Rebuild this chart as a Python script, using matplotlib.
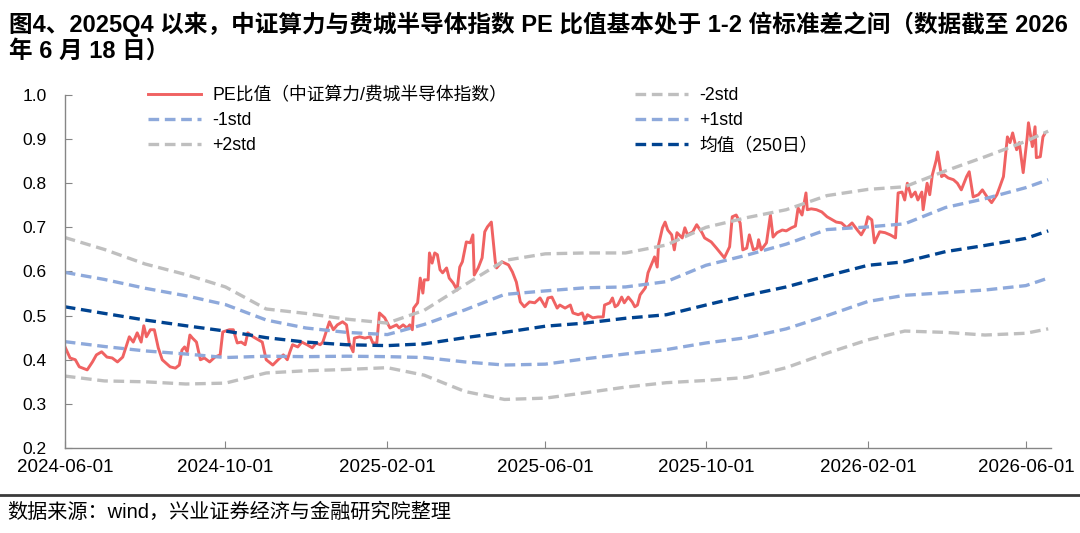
import pandas as pd
import matplotlib
matplotlib.use("Agg")
import matplotlib.pyplot as plt
import matplotlib.dates as mdates
from matplotlib.lines import Line2D

plt.rcParams['font.family'] = ['Liberation Sans', 'Noto Sans CJK SC', 'DejaVu Sans']

# PE ratio (中证算力 / 费城半导体), days counted from the start date
start = "2024-06-01"
pe_days = [0, 4, 8, 11, 17, 21, 24, 28, 32, 36, 40, 44, 47, 49, 52, 55, 58, 60, 62, 65,
           68, 71, 74, 80, 84, 87, 89, 91, 93, 95, 97, 100, 103, 106, 110, 114, 118, 120, 125, 128,
           131, 134, 137, 139, 143, 147, 150, 153, 158, 162, 166, 169, 171, 173, 177, 180, 184, 188, 191, 194,
           196, 199, 201, 204, 207, 211, 214, 216, 219, 220, 224, 228, 232, 234, 237, 239, 243, 247, 252, 254,
           257, 260, 262, 264, 265, 268, 270, 272, 273, 276, 277, 279, 281, 283, 285, 287, 290, 292, 295, 298,
           300, 302, 305, 308, 310, 311, 314, 317, 319, 321, 324, 327, 328, 332, 337, 340, 343, 346, 349, 353,
           357, 361, 365, 367, 370, 374, 376, 380, 384, 386, 390, 393, 395, 397, 401, 405, 409, 410, 414, 416,
           418, 420, 423, 425, 428, 431, 433, 435, 437, 441, 443, 446, 448, 450, 451, 454, 456, 458, 461, 463,
           465, 469, 471, 473, 477, 480, 484, 486, 491, 495, 498, 501, 505, 507, 510, 513, 515, 518, 520, 523,
           526, 527, 529, 533, 536, 538, 541, 545, 548, 552, 555, 557, 560, 563, 564, 567, 571, 575, 579, 583,
           586, 590, 594, 598, 602, 605, 608, 610, 613, 615, 619, 623, 627, 631, 633, 636, 638, 640, 643, 646,
           648, 651, 652, 655, 657, 659, 662, 663, 666, 668, 671, 675, 678, 681, 685, 687, 690, 694, 697, 701,
           704, 708, 710, 713, 716, 718, 720, 723, 725, 728, 731, 732, 735, 737, 738, 741, 743, 744]
pe_values = [0.430, 0.404, 0.400, 0.384, 0.377, 0.395, 0.411, 0.418, 0.406, 0.404, 0.395, 0.406, 0.434, 0.452, 0.440, 0.461, 0.440, 0.477, 0.452, 0.468,
             0.468, 0.427, 0.400, 0.384, 0.381, 0.388, 0.422, 0.429, 0.418, 0.456, 0.449, 0.440, 0.400, 0.404, 0.395, 0.406, 0.411, 0.463, 0.468, 0.468,
             0.438, 0.440, 0.434, 0.461, 0.452, 0.445, 0.440, 0.400, 0.388, 0.400, 0.411, 0.400, 0.418, 0.434, 0.429, 0.440, 0.434, 0.427, 0.438, 0.434,
             0.440, 0.468, 0.486, 0.468, 0.479, 0.486, 0.479, 0.438, 0.418, 0.449, 0.452, 0.449, 0.452, 0.438, 0.438, 0.506, 0.495, 0.472, 0.479, 0.472,
             0.479, 0.472, 0.479, 0.468, 0.517, 0.529, 0.585, 0.551, 0.581, 0.581, 0.642, 0.619, 0.642, 0.638, 0.604, 0.597, 0.608, 0.585, 0.574, 0.558,
             0.610, 0.622, 0.667, 0.665, 0.683, 0.592, 0.608, 0.631, 0.690, 0.701, 0.712, 0.622, 0.608, 0.622, 0.615, 0.599, 0.576, 0.531, 0.520, 0.531,
             0.529, 0.540, 0.520, 0.540, 0.542, 0.517, 0.524, 0.517, 0.524, 0.506, 0.502, 0.506, 0.490, 0.502, 0.495, 0.497, 0.497, 0.524, 0.529, 0.540,
             0.520, 0.524, 0.542, 0.529, 0.542, 0.531, 0.520, 0.524, 0.547, 0.563, 0.597, 0.619, 0.633, 0.610, 0.660, 0.699, 0.712, 0.694, 0.683, 0.649,
             0.688, 0.676, 0.699, 0.683, 0.690, 0.706, 0.688, 0.676, 0.667, 0.653, 0.642, 0.631, 0.656, 0.724, 0.728, 0.710, 0.649, 0.653, 0.683, 0.649,
             0.653, 0.672, 0.649, 0.665, 0.728, 0.678, 0.688, 0.694, 0.692, 0.699, 0.703, 0.744, 0.728, 0.778, 0.740, 0.742, 0.740, 0.735, 0.724, 0.717,
             0.712, 0.710, 0.699, 0.710, 0.694, 0.683, 0.699, 0.724, 0.717, 0.665, 0.690, 0.688, 0.683, 0.676, 0.778, 0.780, 0.762, 0.800, 0.769, 0.780,
             0.762, 0.780, 0.740, 0.800, 0.774, 0.819, 0.853, 0.871, 0.815, 0.819, 0.812, 0.808, 0.800, 0.785, 0.815, 0.826, 0.769, 0.774, 0.785, 0.767,
             0.756, 0.774, 0.790, 0.815, 0.905, 0.892, 0.914, 0.876, 0.892, 0.824, 0.903, 0.937, 0.883, 0.928, 0.858, 0.860, 0.905, 0.910]

# 250-day mean and std bands, read monthly
band_dates = ["2024-06-01", "2024-07-01", "2024-08-01", "2024-09-01", "2024-10-01", "2024-11-01",
              "2024-12-01", "2025-01-01", "2025-02-01", "2025-03-01", "2025-04-01", "2025-05-01",
              "2025-06-01", "2025-07-01", "2025-08-01", "2025-09-01", "2025-10-01", "2025-11-01",
              "2025-12-01", "2026-01-01", "2026-02-01", "2026-03-01", "2026-04-01", "2026-05-01",
              "2026-06-01", "2026-06-18"]
plus2 = [0.677, 0.650, 0.617, 0.593, 0.565, 0.515, 0.505, 0.492, 0.483, 0.512, 0.570, 0.625, 0.640,
         0.642, 0.642, 0.660, 0.700, 0.722, 0.740, 0.772, 0.786, 0.792, 0.828, 0.860, 0.895, 0.918]
plus1 = [0.598, 0.582, 0.562, 0.545, 0.525, 0.490, 0.472, 0.462, 0.457, 0.480, 0.513, 0.548, 0.556,
         0.563, 0.565, 0.577, 0.614, 0.637, 0.662, 0.695, 0.701, 0.708, 0.745, 0.765, 0.790, 0.808]
mean250 = [0.520, 0.505, 0.490, 0.477, 0.465, 0.450, 0.440, 0.434, 0.432, 0.436, 0.450, 0.462, 0.476,
           0.483, 0.494, 0.502, 0.524, 0.546, 0.565, 0.590, 0.614, 0.622, 0.645, 0.659, 0.675, 0.692]
minus1 = [0.441, 0.430, 0.420, 0.413, 0.405, 0.408, 0.407, 0.408, 0.407, 0.405, 0.395, 0.388, 0.390,
          0.402, 0.413, 0.423, 0.438, 0.450, 0.470, 0.500, 0.532, 0.546, 0.552, 0.558, 0.568, 0.585]
minus2 = [0.363, 0.352, 0.350, 0.345, 0.347, 0.370, 0.375, 0.378, 0.382, 0.365, 0.328, 0.310, 0.313,
          0.325, 0.338, 0.348, 0.353, 0.360, 0.382, 0.415, 0.445, 0.465, 0.462, 0.456, 0.460, 0.470]

xtick_dates = ["2024-06-01", "2024-10-01", "2025-02-01", "2025-06-01", "2025-10-01", "2026-02-01", "2026-06-01"]

pe_x = pd.Timestamp(start) + pd.to_timedelta(pe_days, unit="D")
bx = pd.to_datetime(band_dates)

red = "#F06262"
gray = "#BFBFBF"
lblue = "#8EA9DB"
dblue = "#004390"
dash = (3.2, 1.7)

fig = plt.figure(figsize=(10.8, 5.33), dpi=100)
ax = fig.add_axes([0.060, 0.1595, 0.913, 0.6623])

l_pe, = ax.plot(pe_x, pe_values, color=red, lw=2.1, label="PE比值（中证算力/费城半导体指数）")
l_m2, = ax.plot(bx, minus2, color=gray, lw=2.4, dashes=dash, label="-2std")
l_m1, = ax.plot(bx, minus1, color=lblue, lw=2.4, dashes=dash, label="-1std")
l_p1, = ax.plot(bx, plus1, color=lblue, lw=2.4, dashes=dash, label="+1std")
l_p2, = ax.plot(bx, plus2, color=gray, lw=2.4, dashes=dash, label="+2std")
l_mn, = ax.plot(bx, mean250, color=dblue, lw=2.4, dashes=dash, label="均值（250日）")

ax.set_ylim(0.2, 1.0)
ax.set_yticks([0.2, 0.3, 0.4, 0.5, 0.6, 0.7, 0.8, 0.9, 1.0])
ax.yaxis.set_major_formatter(plt.FormatStrFormatter("%.1f"))
ax.set_xlim(pd.Timestamp("2024-06-01"), pd.Timestamp("2026-06-20"))
ax.set_xticks(pd.to_datetime(xtick_dates))
ax.xaxis.set_major_formatter(mdates.DateFormatter("%Y-%m-%d"))

for s in ["top", "right"]:
    ax.spines[s].set_visible(False)
for s in ["left", "bottom"]:
    ax.spines[s].set_color("#868686")
    ax.spines[s].set_linewidth(1.0)
ax.tick_params(axis="y", direction="in", length=5, color="#868686", labelsize=12.5, pad=13)
ax.tick_params(axis="x", direction="in", length=5, color="#868686", labelsize=13.5, pad=8)

handles = [l_pe, l_m1, l_p2, l_m2, l_p1, l_mn]
ax.legend(handles=handles, labels=[h.get_label() for h in handles], ncol=2, frameon=False,
          loc="upper left", bbox_to_anchor=(148 / 1080, 1 - 87 / 533), bbox_transform=fig.transFigure,
          borderpad=0, borderaxespad=0, handlelength=3.0, handletextpad=0.6,
          columnspacing=7.2, labelspacing=0.45, fontsize=12.8)

fig.text(0.008, 1 - 11 / 533,
         "图4、2025Q4 以来，中证算力与费城半导体指数 PE 比值基本处于 1-2 倍标准差之间（数据截至 2026\n年 6 月 18 日）",
         fontsize=17, fontweight="bold", va="top", ha="left", linespacing=1.2)

fig.add_artist(Line2D([0, 1], [1 - 495 / 533, 1 - 495 / 533], color="#3A3A3A", lw=2.0,
                      transform=fig.transFigure))
fig.text(0.007, 1 - 512 / 533, "数据来源：wind，兴业证券经济与金融研究院整理",
         fontsize=14.5, va="center", ha="left")

fig.savefig("out.png", dpi=100)
